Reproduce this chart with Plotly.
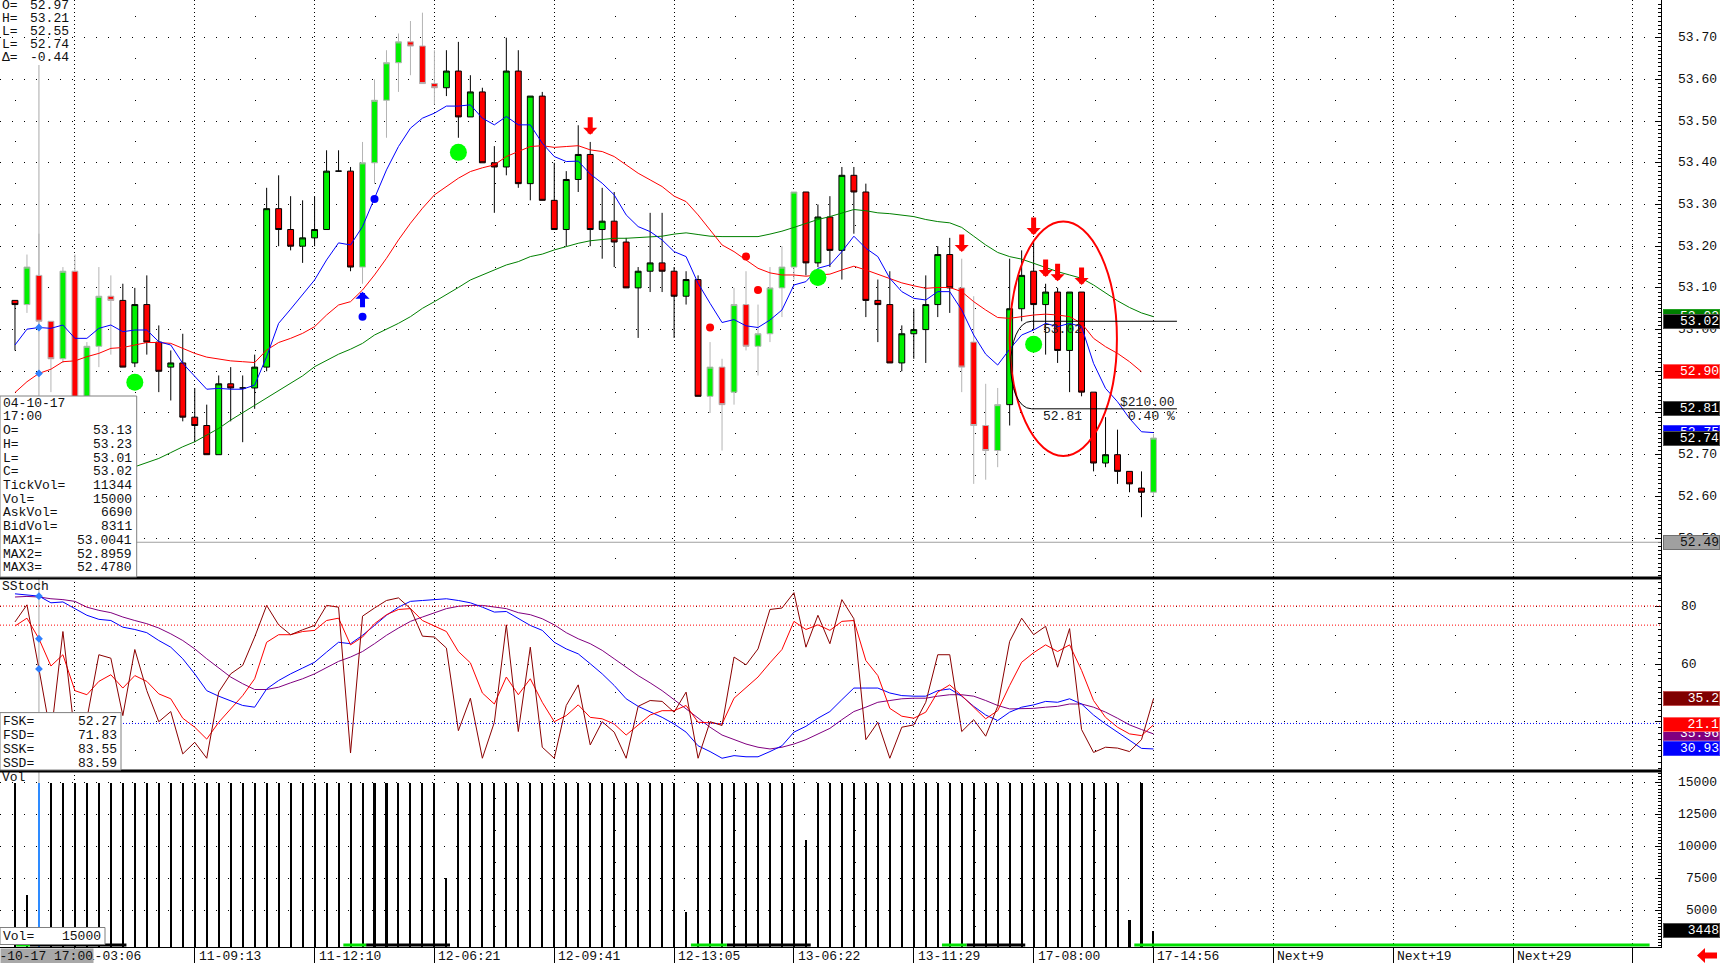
import plotly.graph_objects as go

# ---------------------------------------------------------------- data
bar_index = list(range(96))

opens = [53.07, 53.06, 53.13, 53.02, 52.93, 53.14, 52.84, 52.96, 53.08, 53.07,
         52.92, 53.06, 52.97, 52.91, 52.92, 52.79, 52.77, 52.70, 52.87, 52.86,
         52.86, 52.91, 53.29, 53.24, 53.20, 53.22, 53.24, 53.38, 53.38, 53.15,
         53.40, 53.55, 53.64, 53.69, 53.68, 53.59, 53.58, 53.62, 53.51, 53.57,
         53.40, 53.39, 53.62, 53.35, 53.56, 53.31, 53.24, 53.36, 53.42, 53.24,
         53.26, 53.21, 53.10, 53.14, 53.16, 53.14, 53.08, 53.12, 52.84, 52.91,
         52.85, 53.06, 52.96, 52.99, 53.10, 53.15, 53.33, 53.16, 53.27, 53.19,
         53.37, 53.33, 53.07, 53.06, 52.92, 52.99, 53.00, 53.06, 53.18, 53.10,
         52.97, 52.77, 52.71, 52.82, 53.05, 53.14, 53.06, 53.09, 52.95, 53.09,
         52.85, 52.68, 52.70, 52.66, 52.62, 52.61]
highs = [53.07, 53.18, 53.23, 53.02, 53.15, 53.18, 52.97, 53.15, 53.13, 53.11,
         53.10, 53.13, 53.01, 52.95, 52.99, 52.86, 52.82, 52.89, 52.91, 52.89,
         52.94, 53.34, 53.37, 53.32, 53.31, 53.32, 53.43, 53.43, 53.39, 53.45,
         53.60, 53.67, 53.71, 53.74, 53.76, 53.67, 53.67, 53.69, 53.61, 53.58,
         53.44, 53.70, 53.67, 53.56, 53.57, 53.40, 53.38, 53.49, 53.45, 53.34,
         53.33, 53.22, 53.15, 53.28, 53.28, 53.15, 53.14, 53.13, 52.97, 52.93,
         53.10, 53.14, 53.06, 53.15, 53.20, 53.33, 53.33, 53.30, 53.32, 53.39,
         53.39, 53.35, 53.12, 53.14, 53.01, 53.05, 53.13, 53.20, 53.22, 53.17,
         53.08, 52.87, 52.86, 53.17, 53.19, 53.21, 53.11, 53.10, 53.09, 53.09,
         52.85, 52.79, 52.76, 52.66, 52.66, 52.75]
lows = [52.95, 53.04, 53.01, 52.85, 52.92, 52.80, 52.82, 52.91, 52.94, 52.91,
        52.91, 52.94, 52.85, 52.83, 52.78, 52.73, 52.70, 52.70, 52.78, 52.73,
        52.81, 52.90, 53.20, 53.19, 53.16, 53.20, 53.24, 53.38, 53.14, 53.11,
        53.35, 53.46, 53.57, 53.61, 53.59, 53.54, 53.56, 53.46, 53.51, 53.40,
        53.28, 53.37, 53.34, 53.31, 53.31, 53.24, 53.20, 53.33, 53.20, 53.17,
        53.15, 53.10, 52.98, 53.09, 53.09, 52.98, 53.06, 52.84, 52.80, 52.71,
        52.82, 52.95, 52.89, 52.97, 53.03, 53.12, 53.13, 53.15, 53.15, 53.12,
        53.23, 53.03, 52.97, 52.92, 52.90, 52.93, 52.92, 53.03, 53.04, 52.85,
        52.63, 52.64, 52.67, 52.77, 53.02, 53.00, 52.94, 52.92, 52.85, 52.84,
        52.66, 52.67, 52.63, 52.61, 52.55, 52.60]
closes = [53.06, 53.15, 53.02, 52.93, 53.14, 52.83, 52.96, 53.08, 53.07, 52.91,
          53.06, 52.97, 52.90, 52.92, 52.79, 52.77, 52.70, 52.87, 52.86, 52.86,
          52.91, 53.29, 53.24, 53.20, 53.22, 53.24, 53.38, 53.38, 53.15, 53.40,
          53.55, 53.64, 53.69, 53.68, 53.59, 53.58, 53.62, 53.51, 53.57, 53.40,
          53.39, 53.62, 53.35, 53.56, 53.31, 53.24, 53.36, 53.42, 53.24, 53.26,
          53.21, 53.10, 53.14, 53.16, 53.14, 53.08, 53.12, 52.84, 52.91, 52.82,
          53.06, 52.96, 52.99, 53.10, 53.15, 53.33, 53.16, 53.27, 53.19, 53.37,
          53.33, 53.07, 53.06, 52.92, 52.99, 53.00, 53.06, 53.18, 53.10, 52.91,
          52.77, 52.71, 52.82, 53.05, 53.13, 53.06, 53.09, 52.95, 53.09, 52.85,
          52.68, 52.70, 52.66, 52.63, 52.61, 52.74]

# bars drawn with a grey outline (overnight session)
gray_outline_bars = [1, 2, 3, 4, 5, 6, 7, 8, 29, 30, 31, 32, 33, 34, 35,
                     58, 59, 60, 61, 62, 63, 64, 65, 79, 80, 81, 82, 95]

ma_fast = [52.963, 53.001, 53.005, 53.003, 53.011, 52.979, 52.979, 53.003, 53.011, 52.995,
           52.999, 52.999, 52.971, 52.963, 52.919, 52.887, 52.857, 52.859, 52.857, 52.857,
           52.867, 52.935, 53.015, 53.049, 53.083, 53.119, 53.167, 53.208, 53.203, 53.247,
           53.315, 53.383, 53.439, 53.483, 53.507, 53.519, 53.536, 53.536, 53.539, 53.507,
           53.491, 53.511, 53.491, 53.491, 53.447, 53.415, 53.403, 53.404, 53.373, 53.351,
           53.323, 53.275, 53.247, 53.235, 53.215, 53.187, 53.175, 53.111, 53.063, 53.017,
           53.024, 53.009, 53.005, 53.023, 53.047, 53.107, 53.115, 53.147, 53.155, 53.187,
           53.224, 53.195, 53.175, 53.123, 53.091, 53.075, 53.071, 53.091, 53.091, 53.047,
           52.987, 52.941, 52.915, 52.953, 52.987, 52.999, 53.015, 53.007, 53.015, 53.007,
           52.919, 52.859, 52.827, 52.787, 52.755, 52.753]
ma_mid = [52.849, 52.875, 52.895, 52.905, 52.923, 52.925, 52.935, 52.943, 52.955, 52.957,
          52.963, 52.969, 52.969, 52.967, 52.955, 52.943, 52.934, 52.929, 52.925, 52.923,
          52.921, 52.951, 52.969, 52.979, 52.991, 53.007, 53.035, 53.059, 53.067, 53.095,
          53.131, 53.171, 53.215, 53.255, 53.291, 53.323, 53.343, 53.363, 53.379, 53.388,
          53.395, 53.415, 53.427, 53.439, 53.441, 53.437, 53.439, 53.441, 53.431, 53.427,
          53.415, 53.395, 53.375, 53.359, 53.343, 53.320, 53.307, 53.275, 53.239, 53.203,
          53.187, 53.167, 53.147, 53.136, 53.131, 53.131, 53.128, 53.131, 53.133, 53.143,
          53.152, 53.143, 53.133, 53.123, 53.112, 53.105, 53.099, 53.101, 53.101, 53.091,
          53.067, 53.047, 53.029, 53.027, 53.031, 53.035, 53.037, 53.035, 53.031, 53.015,
          52.979, 52.959, 52.943, 52.923, 52.899]
ma_slow = [None, None, None, None, None, None, None, None, None, None,
           52.671, 52.681, 52.691, 52.705, 52.719, 52.731, 52.747, 52.763, 52.783, 52.801,
           52.819, 52.835, 52.855, 52.873, 52.889, 52.911, 52.927, 52.941, 52.953, 52.967,
           52.987, 53.001, 53.015, 53.031, 53.051, 53.067, 53.083, 53.101, 53.119, 53.131,
           53.143, 53.155, 53.163, 53.175, 53.181, 53.191, 53.199, 53.207, 53.213, 53.216,
           53.219, 53.219, 53.221, 53.223, 53.224, 53.229, 53.232, 53.228, 53.224, 53.223,
           53.223, 53.223, 53.223, 53.229, 53.236, 53.245, 53.255, 53.264, 53.271, 53.279,
           53.288, 53.285, 53.280, 53.278, 53.275, 53.271, 53.264, 53.259, 53.256, 53.245,
           53.224, 53.203, 53.185, 53.175, 53.169, 53.159, 53.149, 53.139, 53.131, 53.123,
           53.107, 53.087, 53.069, 53.053, 53.040, 53.031]

# signal markers on the price panel
big_dot_bars = [10, 37, 67, 85]
big_dot_prices = [52.874, 53.425, 53.125, 52.965]
red_dot_bars = [58, 61, 62]
red_dot_prices = [53.005, 53.175, 53.095]
sell_arrow_bars = [48, 79, 85, 86, 87, 89]
sell_arrow_tips = [53.467, 53.186, 53.227, 53.126, 53.116, 53.107]
buy_arrow_bars = [29]
buy_arrow_tips = [53.091]
blue_dot_bars = [29, 30]
blue_dot_prices = [53.031, 53.313]
selected_bar = 2

# drawing objects
ellipse_bars = [83.0, 91.95]
ellipse_prices = [52.697, 53.259]
measure_bars = [84.83, 96.96]
measure_levels = [53.02, 52.81]
measure_texts = ["53.02", "52.81", "$210.00", "0.40 %"]
support_line = 52.49

# stochastic panel (values in the panel's own scale)
fsk = [74.5, 80.4, 58.3, 35.3, 71.2, 35.3, 41.1, 63.2, 62.0, 42.2,
       65.0, 50.8, 40.1, 43.6, 29.0, 33.0, 27.5, 50.3, 56.6, 59.5,
       69.3, 80.2, 73.5, 70.1, 71.8, 73.3, 80.2, 79.6, 29.3, 76.5,
       79.3, 81.9, 82.8, 79.1, 69.6, 69.3, 65.5, 37.0, 48.2, 27.5,
       39.9, 73.5, 36.7, 65.8, 31.3, 27.5, 45.7, 52.8, 32.1, 40.1,
       36.5, 27.5, 45.4, 47.4, 47.1, 43.4, 50.3, 27.5, 40.1, 38.8,
       62.4, 59.7, 65.2, 78.8, 79.3, 84.6, 65.8, 76.8, 67.0, 82.2,
       75.6, 33.9, 39.9, 27.5, 38.2, 39.0, 46.8, 63.2, 63.2, 36.7,
       40.8, 35.1, 45.4, 67.8, 75.8, 70.1, 73.0, 58.9, 72.2, 37.4,
       29.5, 31.3, 31.0, 29.8, 33.9, 48.0]
fsd = [73.1, 75.8, 68.7, 59.3, 63.2, 50.8, 49.4, 54.0, 56.3, 51.7,
       56.0, 54.0, 49.7, 48.0, 41.3, 38.2, 34.1, 39.9, 44.5, 49.1,
       54.9, 67.5, 70.1, 70.1, 71.2, 71.6, 75.0, 75.8, 66.6, 69.3,
       73.9, 77.0, 78.8, 79.1, 75.0, 73.1, 71.2, 64.3, 60.4, 50.0,
       46.2, 55.5, 49.4, 54.9, 46.8, 40.1, 42.2, 45.9, 41.6, 41.1,
       39.3, 35.5, 38.8, 42.4, 43.9, 43.9, 45.7, 39.9, 39.7, 39.3,
       48.2, 51.7, 55.5, 60.4, 65.0, 74.7, 71.9, 73.5, 71.6, 74.7,
       75.0, 61.2, 56.0, 44.7, 42.0, 41.3, 43.4, 50.3, 52.8, 49.1,
       45.1, 41.1, 43.9, 52.6, 60.6, 63.9, 66.6, 64.3, 66.6, 57.8,
       47.4, 41.6, 38.2, 35.9, 35.3, 39.0]
ssk = [84.2, 83.7, 83.4, 81.1, 81.4, 79.1, 76.8, 75.4, 75.0, 72.7,
       71.9, 70.8, 68.1, 65.8, 61.8, 56.6, 50.8, 48.9, 47.4, 45.7,
       45.1, 51.4, 54.3, 56.6, 58.6, 60.6, 64.1, 67.5, 67.0, 69.9,
       73.3, 76.8, 79.6, 81.6, 81.9, 82.2, 82.5, 81.9, 81.1, 79.6,
       77.9, 78.1, 75.8, 73.3, 71.6, 67.5, 65.2, 63.5, 60.1, 56.6,
       52.6, 48.0, 45.4, 43.4, 41.6, 39.3, 36.5, 31.8, 29.8, 27.5,
       28.4, 28.0, 28.0, 29.8, 31.8, 36.5, 38.5, 41.3, 43.6, 47.7,
       51.7, 51.7, 51.7, 50.0, 49.1, 48.9, 48.9, 50.8, 51.4, 48.9,
       45.4, 42.4, 40.5, 43.4, 45.1, 45.9, 47.1, 46.8, 48.0, 46.2,
       42.4, 39.3, 36.5, 33.6, 30.9, 30.7]
ssd = [83.1, 83.3, 83.1, 82.5, 82.2, 81.6, 79.6, 78.5, 77.7, 76.2,
       75.0, 73.9, 72.4, 70.4, 68.1, 65.2, 61.8, 58.6, 55.5, 53.2,
       51.2, 51.2, 52.0, 53.5, 54.9, 56.6, 58.9, 60.9, 62.4, 64.3,
       67.0, 69.9, 72.4, 74.7, 76.2, 77.7, 79.1, 79.9, 80.2, 80.2,
       79.6, 79.1, 77.7, 77.0, 75.6, 73.5, 70.8, 68.7, 67.0, 64.7,
       61.8, 58.9, 56.0, 53.5, 50.8, 47.7, 44.5, 41.1, 38.2, 35.5,
       33.9, 32.4, 31.3, 30.7, 31.3, 32.4, 33.9, 35.9, 37.8, 40.8,
       43.6, 45.1, 46.8, 47.4, 48.0, 48.2, 48.2, 48.9, 49.4, 49.4,
       48.9, 47.4, 45.7, 44.5, 44.5, 44.7, 45.1, 45.4, 46.2, 46.2,
       45.1, 43.4, 41.3, 39.0, 37.4, 35.9]
stoch_last_labels = ["35.2", "21.1", "35.96", "30.93"]
stoch_red_levels = [80, 73.4]
stoch_blue_levels = [39.5]

volume = [15000, 6250, 15000, 15000, 15000, 15000, 15000, 15000, 15000, 15000,
          15000, 15000, 15000, 15000, 15000, 15000, 15000, 15000, 15000, 15000,
          15000, 15000, 15000, 15000, 15000, 15000, 15000, 15000, 15000, 15000,
          15000, 15000, 15000, 15000, 15000, 15000, 7550, 15000, 15000, 15000,
          15000, 15000, 15000, 15000, 15000, 15000, 15000, 15000, 15000, 15000,
          15000, 15000, 15000, 15000, 15000, 15000, 4900, 15000, 15000, 15000,
          15000, 15000, 15000, 15000, 15000, 15000, 10550, 15000, 15000, 15000,
          15000, 15000, 15000, 15000, 15000, 15000, 15000, 15000, 15000, 15000,
          15000, 15000, 15000, 15000, 15000, 15000, 15000, 15000, 15000, 15000,
          15000, 15000, 15000, 4300, 15000, 3448]

price_ticks = [52.5, 52.6, 52.7, 52.8, 52.9, 53.0, 53.1, 53.2, 53.3, 53.4, 53.5, 53.6, 53.7]
stoch_ticks = [60, 80]
volume_ticks = [5000, 7500, 10000, 12500, 15000]
volume_half_ticks = [3750, 6250, 8750, 11250, 13750]
x_tick_bars = [5, 15, 25, 35, 45, 55, 65, 75, 85, 95, 105, 115, 125]
x_tick_labels = ["11-03:06", "11-09:13", "11-12:10", "12-06:21", "12-09:41", "12-13:05",
                 "13-06:22", "13-11:29", "17-08:00", "17-14:56", "Next+9", "Next+19", "Next+29"]
cursor_date_label = "-10-17 17:00"

header_labels = ["O=", "H=", "L=", "L=", "\u0394="]
header_values = ["52.97", "53.21", "52.55", "52.74", "-0.44"]
info_labels = ["04-10-17", "17:00", "O=", "H=", "L=", "C=", "TickVol=", "Vol=",
               "AskVol=", "BidVol=", "MAX1=", "MAX2=", "MAX3="]
info_values = ["", "", "53.13", "53.23", "53.01", "53.02", "11344", "15000",
               "6690", "8311", "53.0041", "52.8959", "52.4780"]
stoch_box_labels = ["FSK=", "FSD=", "SSK=", "SSD="]
stoch_box_values = ["52.27", "71.83", "83.55", "83.59"]
vol_box = ["Vol=", "15000"]

session_green = [(0.1, 1.25), (27.4, 29.3), (56.4, 59.4), (77.35, 79.4), (93.4, 136.4)]
session_black = [(1.25, 9.3), (29.3, 36.3), (59.4, 66.4), (79.4, 84.3)]

# ---------------------------------------------------------------- geometry helpers
MONO = "Liberation Mono"
PW, PH = 1661, 947          # plot area in pixels


def fx(px):
    return px / PW


def fy(py):
    return 1 - py / PH


X_RANGE = [-1.25, 137.35]
P_RANGE = [52.4043, 53.7904]
S_RANGE = [23.1, 89.655]
V_RANGE = [2164, 15914]

GREEN = "#00F000"
RED = "#FF0000"

fig = go.Figure()

# ---------------------------------------------------------------- price panel
black_bars = [i for i in bar_index if i not in gray_outline_bars]
for idxs, outline in [(black_bars, "#000000"), (gray_outline_bars, "#B4B4B4")]:
    fig.add_trace(go.Candlestick(
        x=[bar_index[i] for i in idxs],
        open=[opens[i] for i in idxs], high=[highs[i] for i in idxs],
        low=[lows[i] for i in idxs], close=[closes[i] for i in idxs],
        increasing=dict(fillcolor=GREEN, line=dict(color=outline, width=1)),
        decreasing=dict(fillcolor=RED, line=dict(color=outline, width=1)),
        whiskerwidth=0, xaxis="x", yaxis="y", showlegend=False, hoverinfo="skip"))

fig.add_trace(go.Scatter(x=bar_index, y=ma_slow, mode="lines",
                         line=dict(color="#008000", width=1), xaxis="x", yaxis="y"))
fig.add_trace(go.Scatter(x=bar_index[:len(ma_mid)], y=ma_mid, mode="lines",
                         line=dict(color="#FF0000", width=1), xaxis="x", yaxis="y"))
fig.add_trace(go.Scatter(x=bar_index, y=ma_fast, mode="lines",
                         line=dict(color="#0000FF", width=1), xaxis="x", yaxis="y"))

fig.add_trace(go.Scatter(x=big_dot_bars, y=big_dot_prices, mode="markers",
                         marker=dict(color="#00FF00", size=17, line=dict(width=0)),
                         xaxis="x", yaxis="y"))
fig.add_trace(go.Scatter(x=red_dot_bars, y=red_dot_prices, mode="markers",
                         marker=dict(color="#FF0000", size=8, line=dict(width=0)),
                         xaxis="x", yaxis="y"))
fig.add_trace(go.Scatter(x=blue_dot_bars, y=blue_dot_prices, mode="markers",
                         marker=dict(color="#0000FF", size=8, line=dict(width=0)),
                         xaxis="x", yaxis="y"))
fig.add_trace(go.Scatter(x=[selected_bar, selected_bar],
                         y=[ma_fast[selected_bar], ma_mid[selected_bar]], mode="markers",
                         marker=dict(color="#2F7FFF", size=6, symbol="diamond"),
                         xaxis="x", yaxis="y"))

# ---------------------------------------------------------------- stochastic panel
for series, col in [(ssd, "#800080"), (ssk, "#0000FF"), (fsd, "#FF0000"), (fsk, "#8B0000")]:
    fig.add_trace(go.Scatter(x=bar_index, y=series, mode="lines",
                             line=dict(color=col, width=1), xaxis="x", yaxis="y2"))
fig.add_trace(go.Scatter(x=[selected_bar] * 3,
                         y=[ssk[selected_bar], fsd[selected_bar], fsk[selected_bar]],
                         mode="markers", marker=dict(color="#2F7FFF", size=6, symbol="diamond"),
                         xaxis="x", yaxis="y2"))

# ---------------------------------------------------------------- volume panel
vol_colors = ["#2E8BFF" if i == selected_bar else "#000000" for i in bar_index]
fig.add_trace(go.Bar(x=bar_index, y=volume, width=0.17,
                     marker=dict(color=vol_colors, line=dict(width=0)),
                     xaxis="x", yaxis="y3"))

# empty traces so that the overlay grid axes are drawn
for ya in ("y4", "y5", "y6"):
    fig.add_trace(go.Scatter(x=[None], y=[None], mode="markers", xaxis="x", yaxis=ya))

# ---------------------------------------------------------------- shapes
shapes = []
shapes.append(dict(type="line", xref="x", yref="paper", x0=selected_bar, x1=selected_bar,
                   y0=fy(PH), y1=fy(65), line=dict(color="#A8A8A8", width=1), layer="below"))
shapes.append(dict(type="line", xref="paper", yref="y", x0=0, x1=1, y0=support_line,
                   y1=support_line, line=dict(color="#A0A0A0", width=1)))
for lv in stoch_red_levels:
    shapes.append(dict(type="line", xref="paper", yref="y2", x0=0, x1=1, y0=lv, y1=lv,
                       line=dict(color="#FF0000", width=1, dash="1px,2px")))
for lv in stoch_blue_levels:
    shapes.append(dict(type="line", xref="paper", yref="y2", x0=0, x1=1, y0=lv, y1=lv,
                       line=dict(color="#0000FF", width=1, dash="1px,2px")))
shapes.append(dict(type="circle", xref="x", yref="y", x0=ellipse_bars[0], x1=ellipse_bars[1],
                   y0=ellipse_prices[0], y1=ellipse_prices[1],
                   line=dict(color="#FF0000", width=2), layer="above"))
mx0, mx1 = measure_bars
hi, lo = measure_levels
for lv in measure_levels:
    shapes.append(dict(type="line", xref="x", yref="y", x0=mx0, x1=mx1, y0=lv, y1=lv,
                       line=dict(color="#000000", width=1), layer="above"))
ctrl = mx0 - 2.33
shapes.append(dict(type="path", xref="x", yref="y",
                   path=f"M {mx0},{hi} C {ctrl},{hi} {ctrl},{lo} {mx0},{lo}",
                   line=dict(color="#000000", width=1), layer="above"))
for ypx in (578, 771):
    shapes.append(dict(type="line", xref="paper", yref="paper", x0=0, x1=1,
                       y0=fy(ypx), y1=fy(ypx), line=dict(color="#000000", width=3),
                       layer="above"))
for a, b in session_black:
    shapes.append(dict(type="rect", xref="x", yref="paper", x0=a, x1=b, y0=fy(946.5),
                       y1=fy(943.5), fillcolor="#000000", line=dict(width=0), layer="above"))
for a, b in session_green:
    shapes.append(dict(type="rect", xref="x", yref="paper", x0=a, x1=b, y0=fy(946.5),
                       y1=fy(943.5), fillcolor="#00E000", line=dict(width=0), layer="above"))
for (x0, x1, y0, y1) in [(0, 136.7, 396, 577), (0, 121, 712.6, 770), (0, 105, 927.5, 944.5)]:
    shapes.append(dict(type="rect", xref="paper", yref="paper", x0=fx(x0), x1=fx(x1),
                       y0=fy(y1), y1=fy(y0), fillcolor="#FFFFFF",
                       line=dict(color="#808080", width=1), layer="above"))
pts = [(1697, 955.5), (1705, 948), (1705, 952.5), (1717, 952.5), (1717, 958.5), (1705, 958.5), (1705, 963)]
path = "M " + " L ".join(f"{fx(a)},{fy(b)}" for a, b in pts) + " Z"
shapes.append(dict(type="path", xref="paper", yref="paper", path=path,
                   fillcolor="#FF0000", line=dict(width=0)))

# ---------------------------------------------------------------- annotations
ann = []


def txt(x, y, s, anchor="left", color="#101010", size=13, **kw):
    d = dict(xref="paper", yref="paper", x=fx(x), y=fy(y), text=s, showarrow=False,
             xanchor=anchor, yanchor="middle", font=dict(family=MONO, size=size, color=color))
    d.update(kw)
    return d


for b, p in zip(sell_arrow_bars, sell_arrow_tips):
    ann.append(dict(xref="x", yref="y", x=b, y=p, ax=0, ay=-19, text="", showarrow=True,
                    arrowhead=1, arrowsize=0.47, arrowwidth=5, arrowcolor="#FF0000",
                    standoff=0))
for b, p in zip(buy_arrow_bars, buy_arrow_tips):
    ann.append(dict(xref="x", yref="y", x=b, y=p, ax=0, ay=17, text="", showarrow=True,
                    arrowhead=1, arrowsize=0.47, arrowwidth=5, arrowcolor="#0000FF",
                    standoff=0))

mfont = dict(family=MONO, size=13, color="#202020")
ann.append(dict(xref="x", yref="y", x=(mx0 + mx1) / 2 - 3.5, y=hi, yshift=-8, text=measure_texts[0],
                showarrow=False, font=mfont))
ann.append(dict(xref="x", yref="y", x=(mx0 + mx1) / 2 - 3.5, y=lo, yshift=-8, text=measure_texts[1],
                showarrow=False, font=mfont))
ann.append(dict(xref="x", yref="y", x=mx1, y=lo, yshift=6, xanchor="right", text=measure_texts[2],
                showarrow=False, font=mfont))
ann.append(dict(xref="x", yref="y", x=mx1, y=lo, yshift=-8, xanchor="right", text=measure_texts[3],
                showarrow=False, font=mfont))

for k, (lab, val) in enumerate(zip(header_labels, header_values)):
    ann.append(txt(0, 5.5 + 13 * k, lab))
    ann.append(txt(71, 5.5 + 13 * k, val, anchor="right"))
for k, (lab, val) in enumerate(zip(info_labels, info_values)):
    ann.append(txt(1, 403.3 + 13.7 * k, lab))
    if val:
        ann.append(txt(134, 403.3 + 13.7 * k, val, anchor="right"))
for k, (lab, val) in enumerate(zip(stoch_box_labels, stoch_box_values)):
    ann.append(txt(1, 721 + 14 * k, lab))
    ann.append(txt(119, 721 + 14 * k, val, anchor="right"))
ann.append(txt(1, 936, vol_box[0]))
ann.append(txt(103, 936, vol_box[1], anchor="right"))
ann.append(txt(0, 586, "SStoch"))
ann.append(txt(0, 777, "Vol"))

for t in price_ticks:
    ann.append(dict(xref="paper", yref="y", x=fx(1719), y=t, xanchor="right", yanchor="middle",
                    text=f"{t:.2f}", showarrow=False,
                    font=dict(family=MONO, size=13, color="#101010")))
for t in stoch_ticks:
    ann.append(dict(xref="paper", yref="y2", x=fx(1679), y=t, xanchor="left", yanchor="middle",
                    text=f"{t}", showarrow=False,
                    font=dict(family=MONO, size=13, color="#101010")))
for t in volume_ticks:
    ann.append(dict(xref="paper", yref="y3", x=fx(1719), y=t, xanchor="right", yanchor="middle",
                    text=f"{t}", showarrow=False,
                    font=dict(family=MONO, size=13, color="#101010")))

for b, lab in zip(x_tick_bars, x_tick_labels):
    ann.append(dict(xref="x", yref="paper", x=b, xshift=2, y=fy(956), xanchor="left",
                    yanchor="middle", text=lab, showarrow=False,
                    font=dict(family=MONO, size=13, color="#101010")))
ann.append(dict(xref="paper", yref="paper", x=0, y=fy(955.5), xanchor="left", yanchor="middle",
                text=cursor_date_label, showarrow=False, bgcolor="#A8A8A8", width=92, height=14,
                borderpad=0, align="right", font=dict(family=MONO, size=13, color="#101010")))


def side_box(text, y, yref, bg, fg="#FFFFFF", border="#505050"):
    return dict(xref="paper", x=fx(1720.5), xanchor="right", yref=yref, y=y, yanchor="middle",
                text=text, showarrow=False, bgcolor=bg, bordercolor=border, borderwidth=1,
                borderpad=0, width=55, height=13, align="right",
                font=dict(family=MONO, size=13, color=fg))


ann.append(side_box(f"{ma_slow[-1]:.2f}", ma_slow[-1], "y", "#008000", border="#20A020"))
ann.append(side_box(f"{measure_levels[0]:.2f}", measure_levels[0], "y", "#000000"))
ann.append(side_box(f"{ma_mid[-1]:.2f}", ma_mid[-1], "y", "#FF0000", border="#FF6060"))
ann.append(side_box(f"{measure_levels[1]:.2f}", measure_levels[1], "y", "#000000"))
ann.append(side_box(f"{ma_fast[-1]:.2f}", ma_fast[-1], "y", "#0000FF", border="#4040FF"))
ann.append(side_box(f"{closes[-1]:.2f}", closes[-1], "y", "#000000"))
ann.append(side_box(f"{support_line:.2f}", support_line, "y", "#A0A0A0", fg="#101010",
                    border="#707070"))
ann.append(side_box(stoch_last_labels[0], fsk[-1], "y2", "#800000", border="#C05050"))
ann.append(side_box(stoch_last_labels[2], ssd[-1], "y2", "#800080", border="#A040A0"))
ann.append(side_box(stoch_last_labels[1], fsd[-1], "y2", "#FF0000", border="#FF6060"))
ann.append(side_box(stoch_last_labels[3], ssk[-1], "y2", "#0000FF", border="#4040FF"))
ann.append(side_box(f"{volume[-1]}", volume[-1], "y3", "#000000"))

# ---------------------------------------------------------------- layout
axis_common = dict(side="right", anchor="x", showticklabels=False, ticks="inside",
                   tickcolor="#000000", showline=True, linecolor="#000000", linewidth=1,
                   zeroline=False, showgrid=True, gridcolor="#000000", gridwidth=1,
                   griddash="1px,11px", fixedrange=True)
sparse_grid = dict(side="right", anchor="x", showticklabels=False, ticks="", showline=False,
                   zeroline=False, showgrid=True, gridcolor="#000000", gridwidth=1,
                   griddash="0px,15px,1px,104px", fixedrange=True)

fig.update_layout(
    width=1721, height=963,
    margin=dict(l=0, r=60, t=0, b=16),
    paper_bgcolor="#FFFFFF", plot_bgcolor="#FFFFFF",
    showlegend=False, hovermode=False, dragmode=False,
    boxgap=0.3, boxgroupgap=0.3, bargap=0,
    xaxis=dict(domain=[0, 1], range=X_RANGE, anchor="y3", tickmode="linear", tick0=5, dtick=10,
               showgrid=True, gridcolor="#000000", griddash="1px,3px", gridwidth=1,
               showticklabels=False, ticks="outside", ticklen=16, tickcolor="#000000",
               showline=True, linecolor="#000000", linewidth=1, zeroline=False,
               rangeslider=dict(visible=False), fixedrange=True),
    yaxis=dict(domain=[fy(578), 1], range=P_RANGE, tickmode="linear", tick0=52.0, dtick=0.1,
               ticklen=6, minor=dict(dtick=0.01, ticks="inside", ticklen=3, tickcolor="#000000",
                                     showgrid=False), **axis_common),
    yaxis2=dict(domain=[fy(771), fy(578)], range=S_RANGE, tickmode="linear", tick0=0, dtick=20,
                ticklen=6, minor=dict(dtick=2, ticks="inside", ticklen=3, tickcolor="#000000",
                                      showgrid=False), **axis_common),
    yaxis3=dict(domain=[0, fy(771)], range=V_RANGE, tickmode="array", tickvals=volume_ticks,
                ticklen=6, minor=dict(dtick=250, ticks="inside", ticklen=3, tickcolor="#000000",
                                      showgrid=False), **axis_common),
    yaxis4=dict(overlaying="y", range=P_RANGE, tickmode="linear", tick0=52.05, dtick=0.1,
                **sparse_grid),
    yaxis5=dict(overlaying="y2", range=S_RANGE, tickmode="linear", tick0=30, dtick=20,
                **sparse_grid),
    yaxis6=dict(overlaying="y3", range=V_RANGE, tickmode="array", tickvals=volume_half_ticks,
                **sparse_grid),
    shapes=shapes,
    annotations=ann,
)

fig.write_html("out.html", config={"displayModeBar": False, "staticPlot": True},
               post_script="document.body.style.margin='0px';document.body.style.padding='0px';")
